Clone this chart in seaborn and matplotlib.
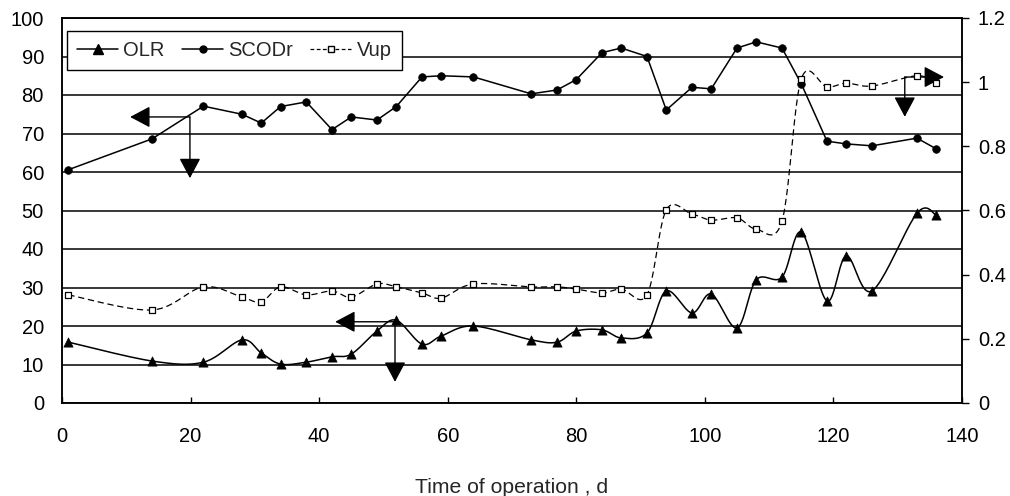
import numpy as np
import matplotlib
matplotlib.use("Agg")
import matplotlib.pyplot as plt
import seaborn as sns
from matplotlib.lines import Line2D

# data
days = [1, 14, 22, 28, 31, 34, 38, 42, 45, 49, 52, 56, 59, 64, 73, 77, 80, 84,
        87, 91, 94, 98, 101, 105, 108, 112, 115, 119, 122, 126, 133, 136]
olr = [15.8, 10.9, 10.6, 16.4, 13.0, 10.1, 10.6, 12.0, 12.7, 18.7, 21.5, 15.3,
       17.4, 20.0, 16.4, 15.8, 18.7, 19.0, 16.9, 18.2, 29.1, 23.4, 28.3, 19.5,
       32.0, 32.7, 44.4, 26.5, 38.2, 29.1, 49.3, 48.8]
scodr = [60.6, 68.6, 77.1, 75.0, 72.7, 77.0, 78.2, 71.0, 74.3, 73.5, 77.0, 84.7,
         85.0, 84.7, 80.3, 81.3, 84.0, 91.0, 92.2, 90.0, 76.1, 82.0, 81.6, 92.2,
         93.8, 92.2, 82.9, 68.0, 67.3, 66.8, 68.8, 66.0]
vup = [0.337, 0.290, 0.362, 0.330, 0.315, 0.362, 0.337, 0.349, 0.330, 0.371,
       0.362, 0.343, 0.327, 0.371, 0.362, 0.362, 0.355, 0.343, 0.355, 0.337,
       0.602, 0.589, 0.570, 0.577, 0.542, 0.567, 1.010, 0.985, 0.997, 0.988,
       1.020, 0.997]
series_names = ["OLR", "SCODr", "Vup"]
right_ticks = [0, 0.2, 0.4, 0.6, 0.8, 1.0, 1.2]
right_labels = ["0", "0.2", "0.4", "0.6", "0.8", "1", "1.2"]


def smooth(x, y, n=24):
    # Excel-style smoothed line (Catmull-Rom as cubic Bezier)
    p = np.column_stack([x, y]).astype(float)
    out = []
    for i in range(len(p) - 1):
        p0 = p[i - 1] if i > 0 else p[i]
        p1, p2 = p[i], p[i + 1]
        p3 = p[i + 2] if i + 2 < len(p) else p[i + 1]
        c1 = p1 + (p2 - p0) / 6
        c2 = p2 - (p3 - p1) / 6
        t = np.linspace(0, 1, n)[:, None]
        seg = ((1 - t) ** 3) * p1 + 3 * ((1 - t) ** 2) * t * c1 + 3 * (1 - t) * t ** 2 * c2 + t ** 3 * p2
        out.append(seg if i == 0 else seg[1:])
    s = np.vstack(out)
    return s[:, 0], s[:, 1]


sns.set_style("white")
plt.rcParams["font.family"] = ["Liberation Sans", "DejaVu Sans"]

fig = plt.figure(figsize=(10.1, 4.96), dpi=100)
ax = fig.add_axes([62 / 1010, 93 / 496, 900 / 1010, 385 / 496])
ax2 = ax.twinx()

# OLR - smoothed line with triangles
sx, sy = smooth(days, olr)
sns.lineplot(x=sx, y=sy, sort=False, estimator=None, color="black", lw=1.1, ax=ax)
sns.scatterplot(x=days, y=olr, marker="^", s=44, color="black", edgecolor="black",
                linewidth=0.5, ax=ax, zorder=4)

# SCODr - straight line with dots
sns.lineplot(x=days, y=scodr, sort=False, estimator=None, color="black", lw=1.1, ax=ax)
sns.scatterplot(x=days, y=scodr, marker="o", s=30, color="black", edgecolor="black",
                linewidth=0.5, ax=ax, zorder=4)

# Vup - dashed smoothed line with open squares (right axis)
vx, vy = smooth(days, vup)
sns.lineplot(x=vx, y=vy, sort=False, estimator=None, color="black", lw=0.9,
             linestyle=(0, (5, 3)), ax=ax2)
sns.scatterplot(x=days, y=vup, marker="s", s=22, color="white", edgecolor="black",
                linewidth=0.9, ax=ax2, zorder=4)

ax.set_xlim(0, 140)
ax.set_ylim(0, 100)
ax.set_xticks(range(0, 141, 20))
ax.set_yticks(range(0, 101, 10))
ax.grid(axis="y", color="black", lw=1.1)
ax.grid(axis="x", visible=False)
ax.set_axisbelow(True)
ax2.set_ylim(0, 1.2)
ax2.set_yticks(right_ticks)
ax2.set_yticklabels(right_labels)
ax2.grid(False)

for a in (ax, ax2):
    for sp in a.spines.values():
        sp.set_color("black")
        sp.set_linewidth(1.1)
        sp.set_visible(True)

ax.tick_params(axis="y", length=0, pad=13, labelsize=14.5, colors="black")
ax.tick_params(axis="x", direction="in", length=4.5, width=1, pad=17,
               labelsize=14.5, colors="black", bottom=True)
ax2.tick_params(axis="y", direction="out", length=5, width=1, pad=6.5,
                labelsize=14.5, colors="black", right=True)

ax.set_xlabel("Time of operation , d", fontsize=15.2, labelpad=23)
ax.set_ylabel("")
ax2.set_ylabel("")

# arrows pointing to the axis of each series
head = dict(arrowstyle="-|>,head_length=0.62,head_width=0.33", color="black",
            lw=1, shrinkA=0, shrinkB=0, mutation_scale=20)
ax2.annotate("", xy=(10.6, 74.3), xytext=(19.9, 74.3), xycoords=ax.transData,
             textcoords=ax.transData, arrowprops=head)
ax2.annotate("", xy=(19.9, 58.4), xytext=(19.9, 74.3), xycoords=ax.transData,
             textcoords=ax.transData, arrowprops=head)
ax2.annotate("", xy=(42.5, 21.1), xytext=(51.8, 21.1), xycoords=ax.transData,
             textcoords=ax.transData, arrowprops=head)
ax2.annotate("", xy=(51.8, 5.5), xytext=(51.8, 21.1), xycoords=ax.transData,
             textcoords=ax.transData, arrowprops=head)
ax2.annotate("", xy=(137.2, 1.016), xytext=(131.1, 1.016), arrowprops=head)
ax2.annotate("", xy=(131.1, 0.892), xytext=(131.1, 1.016), arrowprops=head)

handles = [
    Line2D([], [], color="black", lw=1.1, marker="^", markersize=6.5),
    Line2D([], [], color="black", lw=1.1, marker="o", markersize=5),
    Line2D([], [], color="black", lw=0.9, linestyle=(0, (3, 2)), marker="s",
           markersize=4.5, markerfacecolor="white", markeredgecolor="black"),
]
leg = ax2.legend(handles, series_names, ncol=3, loc="upper left",
                 bbox_to_anchor=(5 / 900, (403 - 31) / 385), borderaxespad=0,
                 fontsize=14.5, handlelength=2.05, handletextpad=0.25,
                 columnspacing=0.85, borderpad=0.5, fancybox=False,
                 framealpha=1, edgecolor="black")
leg.get_frame().set_linewidth(1)

fig.savefig("out.png", dpi=100)
